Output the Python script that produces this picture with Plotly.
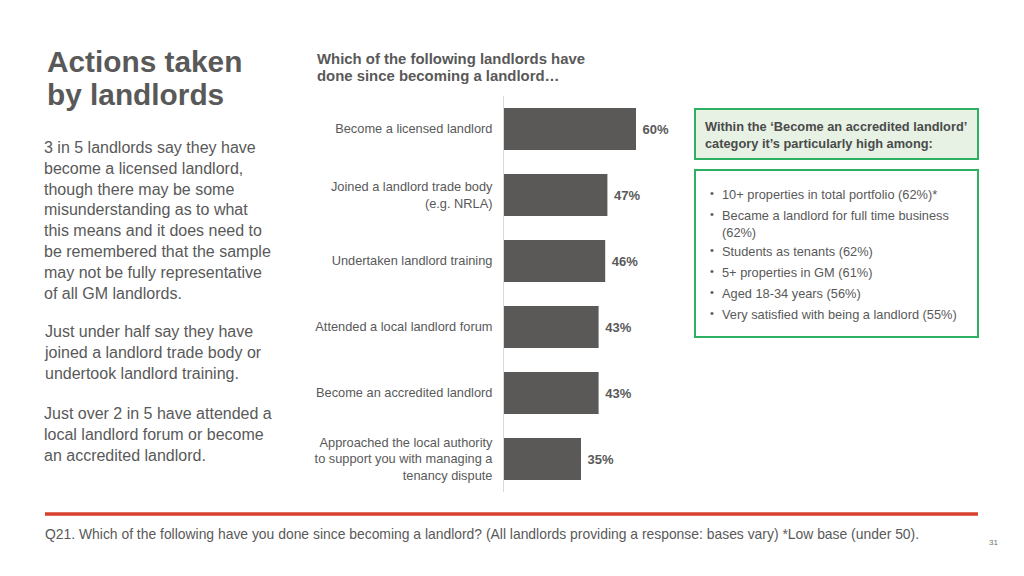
import plotly.graph_objects as go

categories = [
    "Become a licensed landlord",
    "Joined a landlord trade body<br>(e.g. NRLA)",
    "Undertaken landlord training",
    "Attended a local landlord forum",
    "Become an accredited landlord",
    "Approached the local authority<br>to support you with managing a<br>tenancy dispute",
]
values = [60, 47, 46, 43, 43, 35]

title_lines = ["Actions taken", "by landlords"]
question_lines = ["Which of the following landlords have", "done since becoming a landlord…"]
paragraphs = [
    "3 in 5 landlords say they have<br>become a licensed landlord,<br>though there may be some<br>misunderstanding as to what<br>this means and it does need to<br>be remembered that the sample<br>may not be fully representative<br>of all GM landlords.",
    "Just under half say they have<br>joined a landlord trade body or<br>undertook landlord training.",
    "Just over 2 in 5 have attended a<br>local landlord forum or become<br>an accredited landlord.",
]
box_header = "Within the ‘Become an accredited landlord’<br>category it’s particularly high among:"
bullets = [
    "10+ properties in total portfolio (62%)*",
    "Became a landlord for full time business<br>(62%)",
    "Students as tenants (62%)",
    "5+ properties in GM (61%)",
    "Aged 18-34 years (56%)",
    "Very satisfied with being a landlord (55%)",
]
footnote = "Q21. Which of the following have you done since becoming a landlord? (All landlords providing a response: bases vary) *Low base (under 50)."
page_no = "31"

OFF = 8  # page body margin
W, H = 1024 - OFF, 576 - OFF
FONT = "Liberation Sans, Arial, Helvetica, sans-serif"
GREY = "#595959"


def px(x):
    return (x - OFF) / W


def py(y):
    return 1 - (y - OFF) / H


fig = go.Figure()
fig.add_trace(go.Bar(
    x=values,
    y=categories,
    orientation="h",
    marker=dict(color="#5a5958", line=dict(width=0)),
    text=[f"\u00a0{v}%" for v in values],
    textposition="outside",
    textfont=dict(family=FONT, size=13, color=GREY, weight="bold"),
    cliponaxis=False,
    hoverinfo="skip",
))

fig.update_layout(
    width=W, height=H,
    margin=dict(l=0, r=0, t=0, b=0),
    paper_bgcolor="white", plot_bgcolor="rgba(0,0,0,0)",
    showlegend=False,
    bargap=1 - 42 / 66,
    font=dict(family=FONT, color=GREY),
    xaxis=dict(domain=[px(504), px(724)], range=[0, 100], visible=False, fixedrange=True),
    yaxis=dict(
        domain=[py(492), py(96)],
        categoryorder="array", categoryarray=categories, autorange="reversed",
        showline=True, linecolor="#d9d9d9", linewidth=1,
        showgrid=False, zeroline=False, ticks="",
        ticklabelstandoff=8,
        tickfont=dict(family=FONT, size=12.8, color=GREY),
    ),
)

ann = []
# Title
for i, line in enumerate(title_lines):
    ann.append(dict(x=px(45), y=py(62 + 32 * i), xref="paper", yref="paper",
                    text=f"<b>{line}</b>", showarrow=False, xanchor="left", yanchor="middle",
                    font=dict(family=FONT, size=29.8, color=GREY)))
# Question
for i, line in enumerate(question_lines):
    ann.append(dict(x=px(315), y=py(59 + 17 * i), xref="paper", yref="paper", text=f"<b>{line}</b>",
                    showarrow=False, xanchor="left", yanchor="middle",
                    font=dict(family=FONT, size=14.9, color=GREY)))
# Paragraphs
for top, para in zip([137, 321, 403], paragraphs):
    ann.append(dict(x=px(42), y=py(top), xref="paper", yref="paper", text=para,
                    showarrow=False, xanchor="left", yanchor="top", align="left",
                    font=dict(family=FONT, size=16, color=GREY)))
# Box header text
ann.append(dict(x=px(703), y=py(135), xref="paper", yref="paper", text=f"<b>{box_header}</b>",
                showarrow=False, xanchor="left", yanchor="middle", align="left",
                font=dict(family=FONT, size=12.8, color="#4a4a4a")))
# Bullets
for yy, b in zip([193, 214, 250, 271, 292, 313], bullets):
    ann.append(dict(x=px(708), y=py(yy), xref="paper", yref="paper", text="•",
                    showarrow=False, xanchor="left", yanchor="middle",
                    font=dict(family=FONT, size=11, color=GREY)))
    ann.append(dict(x=px(720), y=py(yy - 8), xref="paper", yref="paper", text=b,
                    showarrow=False, xanchor="left", yanchor="top", align="left",
                    font=dict(family=FONT, size=12.8, color=GREY)))
# Footnote
ann.append(dict(x=px(43), y=py(534), xref="paper", yref="paper", text=footnote,
                showarrow=False, xanchor="left", yanchor="middle",
                font=dict(family=FONT, size=13.9, color=GREY)))
ann.append(dict(x=px(993), y=py(542), xref="paper", yref="paper", text=page_no,
                showarrow=False, xanchor="center", yanchor="middle",
                font=dict(family=FONT, size=8, color="#6f6f6f")))
fig.update_layout(annotations=ann)

shapes = [
    dict(type="rect", xref="paper", yref="paper", x0=px(695), x1=px(978), y0=py(159), y1=py(109),
         line=dict(color="#2eb062", width=2), fillcolor="#e7f2e5", layer="below"),
    dict(type="rect", xref="paper", yref="paper", x0=px(695), x1=px(978), y0=py(337), y1=py(170),
         line=dict(color="#2eb062", width=2), fillcolor="white", layer="below"),
    dict(type="line", xref="paper", yref="paper", x0=px(45), x1=px(978), y0=py(514), y1=py(514),
         line=dict(color="#d9402b", width=3.5)),
]
fig.update_layout(shapes=shapes)

fig.write_html("out.html")
